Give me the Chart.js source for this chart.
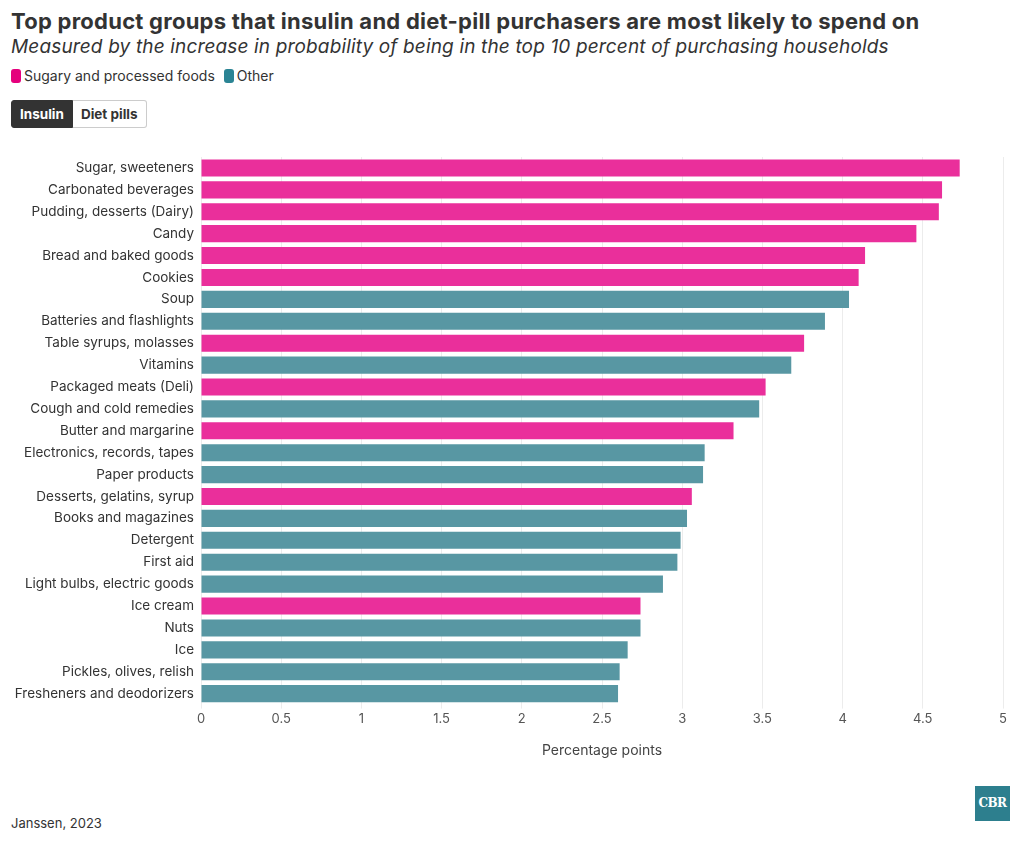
<!DOCTYPE html>
<html>
<head>
<meta charset="utf-8">
<script src="https://cdn.jsdelivr.net/npm/chart.js@4"></script>
<style>
  body { margin: 0; background: #fff; font-family: Inter, sans-serif; color: #333; }
  #wrap { position: relative; width: 1020px; height: 842px; overflow: hidden; }
  h1 { position: absolute; left: 11px; top: 8px; margin: 0; font-size: 22px; font-weight: 700; letter-spacing: 0.25px; }
  .sub { position: absolute; left: 11px; top: 35px; font-size: 19px; font-style: italic; letter-spacing: 0.15px; }
  .legend { position: absolute; left: 11px; top: 67px; font-size: 14px; display: flex; align-items: center; }
  .legend .sw { display: inline-block; width: 10px; height: 14px; border-radius: 3px; margin-right: 3px; }
  .legend .item { display: flex; align-items: center; margin-right: 9px; }
  .btns { position: absolute; left: 11px; top: 100px; display: flex; font-size: 13.5px; font-weight: 700; }
  .btns div { height: 26px; line-height: 26px; padding: 0 8px; border: 1px solid #ccc; }
  .btns .on { background: #333; color: #fff; border-color: #333; border-radius: 3px 0 0 3px; }
  .btns .off { background: #fff; color: #333; border-left: none; border-radius: 0 3px 3px 0; }
  #chartBox { position: absolute; left: 0; top: 140px; width: 1020px; height: 640px; }
  .source { position: absolute; left: 11px; top: 815px; font-size: 13px; }
  .logo { position: absolute; left: 975px; top: 786px; width: 35px; height: 35px; background: #2d7f8e; color: #fff;
          font: bold 12px "DejaVu Serif", serif; text-align: center; line-height: 35px; letter-spacing: -0.5px; }
</style>
</head>
<body>
<div id="wrap">
  <h1>Top product groups that insulin and diet-pill purchasers are most likely to spend on</h1>
  <div class="sub">Measured by the increase in probability of being in the top 10 percent of purchasing households</div>
  <div class="legend">
    <span class="item"><span class="sw" style="background:#e5007d"></span>Sugary and processed foods</span>
    <span class="item"><span class="sw" style="background:#2b8494"></span>Other</span>
  </div>
  <div class="btns"><div class="on">Insulin</div><div class="off">Diet pills</div></div>
  <div id="chartBox"><canvas id="chart" width="1020" height="640"></canvas></div>
  <div class="source">Janssen, 2023</div>
  <div class="logo">CBR</div>
</div>
<script>
const categories = [
  "Sugar, sweeteners", "Carbonated beverages", "Pudding, desserts (Dairy)", "Candy",
  "Bread and baked goods", "Cookies", "Soup", "Batteries and flashlights",
  "Table syrups, molasses", "Vitamins", "Packaged meats (Deli)", "Cough and cold remedies",
  "Butter and margarine", "Electronics, records, tapes", "Paper products", "Desserts, gelatins, syrup",
  "Books and magazines", "Detergent", "First aid", "Light bulbs, electric goods",
  "Ice cream", "Nuts", "Ice", "Pickles, olives, relish", "Fresheners and deodorizers"
];
const values = [
  4.73, 4.62, 4.60, 4.46, 4.14, 4.10, 4.04, 3.89, 3.76, 3.68, 3.52, 3.48,
  3.32, 3.14, 3.13, 3.06, 3.03, 2.99, 2.97, 2.88, 2.74, 2.74, 2.66, 2.61, 2.60
];
// true = sugary and processed foods
const sugary = [
  true, true, true, true, true, true, false, false, true, false, true, false,
  true, false, false, true, false, false, false, false, true, false, false, false, false
];
const xTicks = [0, 0.5, 1, 1.5, 2, 2.5, 3, 3.5, 4, 4.5, 5];

const pink = '#ea2f9b';
const teal = '#5897a3';

const ctx = document.getElementById('chart').getContext('2d');
new Chart(ctx, {
  type: 'bar',
  data: {
    labels: categories,
    datasets: [{
      data: values,
      backgroundColor: sugary.map(s => s ? pink : teal),
      borderWidth: 0,
      categoryPercentage: 0.78,
      barPercentage: 1
    }]
  },
  options: {
    indexAxis: 'y',
    responsive: false,
    animation: false,
    devicePixelRatio: 1,
    layout: { padding: { top: 17, right: 17, left: 0, bottom: 3 } },
    plugins: { legend: { display: false }, tooltip: { enabled: false } },
    scales: {
      x: {
        min: 0, max: 5,
        afterBuildTicks: scale => { scale.ticks = xTicks.map(v => ({ value: v })); },
        ticks: { color: '#555', font: { family: 'Inter', size: 13 }, padding: 3, autoSkip: false, maxRotation: 0,
                 callback: v => String(v) },
        grid: { color: '#ececec', tickLength: 4 },
        border: { display: false },
        title: { display: true, text: 'Percentage points', color: '#444', font: { family: 'Inter', size: 14 }, padding: { top: 12, bottom: 18 } }
      },
      y: {
        afterFit: scale => { scale.width = 201; },
        ticks: { color: '#333', font: { family: 'Inter', size: 13.5 }, padding: 7, autoSkip: false },
        grid: { display: false, tickLength: 0 },
        border: { display: false }
      }
    }
  }
});
</script>
</body>
</html>
